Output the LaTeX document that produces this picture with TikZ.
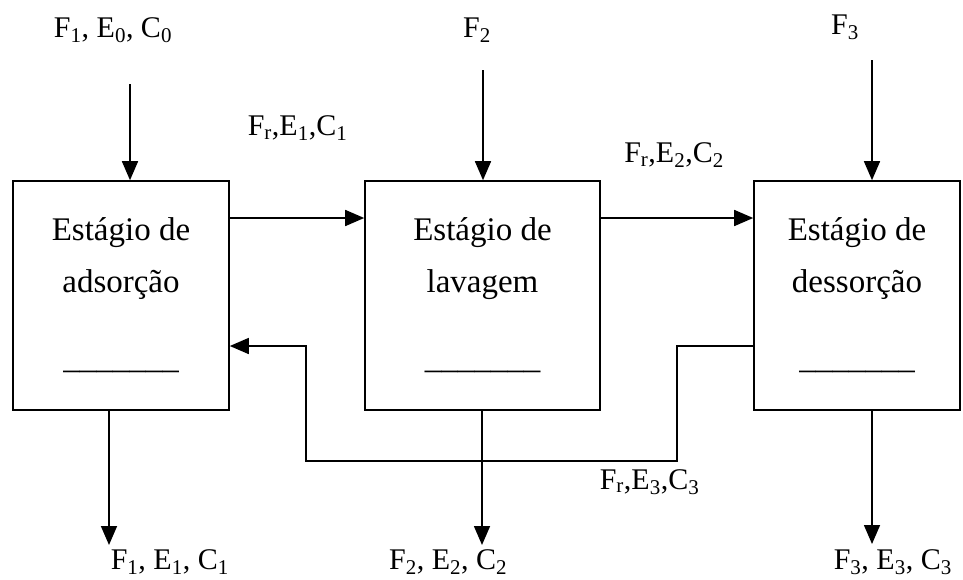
\documentclass[tikz,border=0pt]{standalone}
\usepackage{fontspec}
\setmainfont{Liberation Serif}
\usetikzlibrary{arrows.meta,positioning,calc}
\tikzstyle{stage} = [draw, rectangle, line width=1.6pt, minimum height=229pt, inner sep=0pt, align=center, font=\fontsize{33}{52}\selectfont]
\tikzstyle{flow} = [inner sep=0pt, font=\fontsize{30}{36}\selectfont]

\begin{document}
\begin{tikzpicture}[x=1pt, y=-1pt, >={Triangle[length=19pt,width=16pt]}, line width=1.6pt]
  \useasboundingbox (0,0) rectangle (963,579);
  % Nodes
  \node [stage, minimum width=216pt] (ads) at (121,295.5) {Estágio de\\adsorção\\[24pt]\_\_\_\_\_\_\_};
  \node [stage, minimum width=235pt] (lav) at (482.5,295.5) {Estágio de\\lavagem\\[24pt]\_\_\_\_\_\_\_};
  \node [stage, minimum width=206pt] (des) at (857,295.5) {Estágio de\\dessorção\\[24pt]\_\_\_\_\_\_\_};

  % Feeds and products
  \node [flow] (f1in) at (113,30) {F\textsubscript{1}, E\textsubscript{0}, C\textsubscript{0}};
  \node [flow] (f2in) at (477,30) {F\textsubscript{2}};
  \node [flow] (f3in) at (845,27) {F\textsubscript{3}};
  \node [flow, anchor=west] (f1out) at (110,562) {F\textsubscript{1}, E\textsubscript{1}, C\textsubscript{1}};
  \node [flow, anchor=east] (f2out) at (508,562) {F\textsubscript{2}, E\textsubscript{2}, C\textsubscript{2}};
  \node [flow, anchor=west] (f3out) at (833,562) {F\textsubscript{3}, E\textsubscript{3}, C\textsubscript{3}};

  \coordinate (in1) at (130,84);
  \coordinate (in2) at (483,70);
  \coordinate (in3) at (872,60);
  \coordinate (out1) at (109,545);
  \coordinate (out2) at (482,545);
  \coordinate (out3) at (872,544);

  \draw [->] (in1) -- (in1 |- ads.north);
  \draw [->] (in2) -- (in2 |- lav.north);
  \draw [->] (in3) -- (in3 |- des.north);
  \draw [->] (out1 |- ads.south) -- (out1);
  \draw [->] (out2 |- lav.south) -- (out2);
  \draw [->] (out3 |- des.south) -- (out3);

  % Path
  \coordinate (fwd) at (0,218);
  \draw [->] (fwd -| ads.east) -- (fwd -| lav.west);
  \draw [->] (fwd -| lav.east) -- (fwd -| des.west);

  \coordinate (rc1) at (677,346);
  \coordinate (rc2) at (306,461);
  \draw [->] (rc1 -| des.west) -- (rc1) |- (rc2) |- (rc1 -| ads.east);

  % Annotations
  \node [flow, anchor=west] (fr1) at (247,128) {F\textsubscript{r},E\textsubscript{1},C\textsubscript{1}};
  \node [flow] (fr2) at (674,155) {F\textsubscript{r},E\textsubscript{2},C\textsubscript{2}};
  \node [flow, anchor=west] (fr3) at (599,482) {F\textsubscript{r},E\textsubscript{3},C\textsubscript{3}};
\end{tikzpicture}
\end{document}
